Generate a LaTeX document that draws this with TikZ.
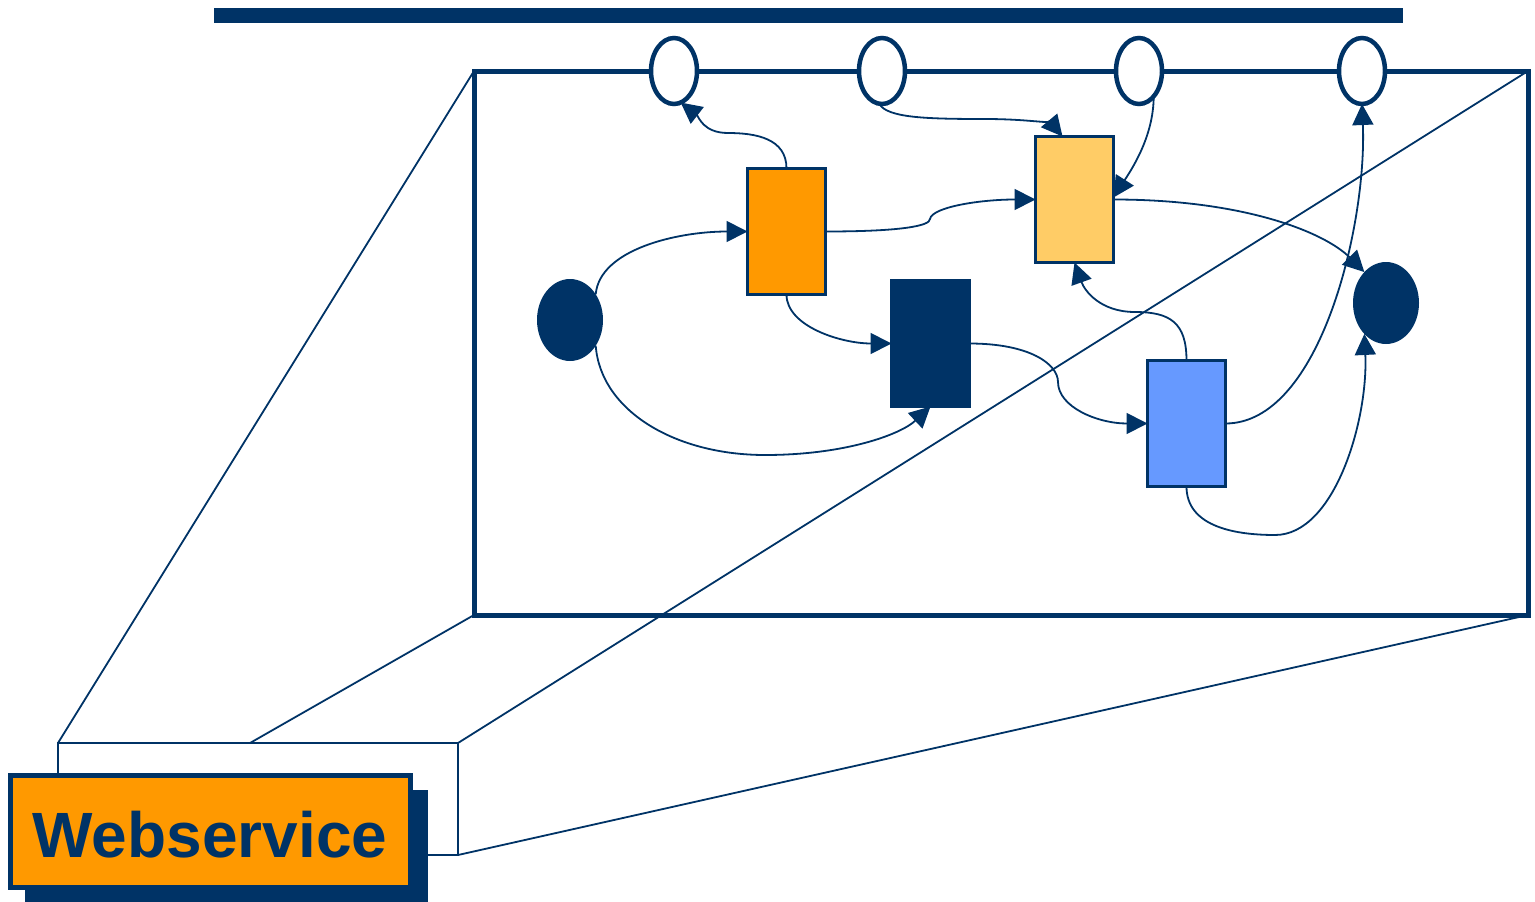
\documentclass[tikz,border=0pt]{standalone}
\usepackage{fontspec}
\setmainfont{Liberation Sans}
\usetikzlibrary{shapes.geometric,arrows.meta}
\definecolor{navy}{HTML}{003366}
\definecolor{orng}{HTML}{FF9900}
\definecolor{lorng}{HTML}{FFCC66}
\definecolor{lblue}{HTML}{6699FF}
\begin{document}
\begin{tikzpicture}[x=1pt,y=-1pt,
  trans/.style={draw=navy,line width=2.8pt,minimum width=78pt,minimum height=126pt,inner sep=0pt,outer sep=0pt},
  place/.style={ellipse,draw=navy,line width=4.5pt,fill=white,minimum width=46pt,minimum height=66pt,inner sep=0pt,outer sep=0pt},
  token/.style={ellipse,fill=navy,minimum width=66pt,minimum height=82pt,inner sep=0pt,outer sep=0pt},
  arr/.style={draw=navy,line width=1.8pt,-{Triangle[length=21pt,width=21pt]}},
  thinline/.style={draw=navy,line width=1.8pt},
]
\useasboundingbox (0,0) rectangle (1535,902);
% top bar
\node (bar) [fill=navy,minimum width=1189pt,minimum height=15pt,inner sep=0pt] at (808.5,15.5) {};
% small box
\node (small) [draw=navy,line width=1.8pt,fill=white,minimum width=400pt,minimum height=112pt,inner sep=0pt,outer sep=0pt] at (258,799) {};
% frame
\node (frame) [draw=navy,line width=5pt,minimum width=1054pt,minimum height=544pt,inner sep=0pt,outer sep=0pt] at (1001,343) {};
% frustum lines
\draw[thinline] (small.north west) -- (frame.north west);
\coordinate (sm2) at ([xshift=192pt]small.north west);
\draw[thinline] (sm2) -- (frame.south west);
\draw[thinline] (small.north east) -- (frame.north east);
\draw[thinline] (small.south east) -- (frame.south east);
% places
\node (p1) [place] at (674,71) {};
\node (p2) [place] at (882,71) {};
\node (p3) [place] at (1139,71) {};
\node (p4) [place] at (1362,71) {};
% tokens
\node (tokL) [token] at (570,320) {};
\node (tokR) [token] at (1386,303) {};
% transitions
\node (orange) [trans,fill=orng] at (786.5,231.5) {};
\node (light) [trans,fill=lorng] at (1074.5,199.5) {};
\node (dark) [trans,fill=navy] at (930.5,343.5) {};
\node (blue) [trans,fill=lblue] at (1186.5,423.5) {};
% arcs
\draw[arr] (tokL.45) .. controls +(4,-45) and +(-70,0) .. (orange.west);
\draw[arr] (tokL.-45) .. controls +(5,65) and +(-90,0) .. (765,455) .. controls +(80,0) and +(-30,28) .. (dark.south);
\draw[arr] (orange.south) .. controls +(0,32) and +(-50,0) .. (dark.west);
\draw[arr] (orange.north) .. controls +(0,-30) and +(28,0) .. (728,133) .. controls +(-25,0) and +(18,14) .. (p1.-78);
\draw[arr] (orange.east) .. controls +(75,0) and +(0,7) .. (930,219) .. controls +(2,-12) and +(-55,0) .. (light.west);
\draw[arr] (p2.-95) .. controls +(8,14) and +(-60,0) .. (985,119) .. controls +(45,0) and +(-10,-12) .. ([xshift=-12pt]light.north);
\draw[arr] (p3.-60) .. controls +(0,40) and +(18,-28) .. ([yshift=2pt]light.east);
\draw[arr] (light.east) .. controls +(130,0) and +(-40,-40) .. (tokR.125);
\draw[arr] (dark.east) .. controls +(60,0) and +(0,-18) .. (1058,382) .. controls +(0,25) and +(-50,0) .. (blue.west);
\draw[arr] (blue.north) .. controls +(0,-38) and +(35,0) .. (1135,312) .. controls +(-35,0) and +(10,28) .. (light.south);
\draw[arr] (blue.east) .. controls +(95,0) and +(5,120) .. (p4.south);
\draw[arr] (blue.south) .. controls +(0,38) and +(-45,0) .. (1275,535) .. controls +(60,0) and +(4,85) .. (tokR.-125);
% webservice label
\node (wsShadow) [fill=navy,minimum width=403pt,minimum height=112pt,inner sep=0pt,outer sep=0pt] at (226.5,846) {};
\node (ws) [draw=navy,fill=orng,line width=5pt,minimum width=400pt,minimum height=112pt,inner sep=0pt,outer sep=0pt] at (210.5,831.5) {};
\node (wstext) [text=navy,anchor=base,inner sep=0pt,font=\bfseries\fontsize{64pt}{64pt}\selectfont] at (210,857) {Webservice};
\end{tikzpicture}
\end{document}
